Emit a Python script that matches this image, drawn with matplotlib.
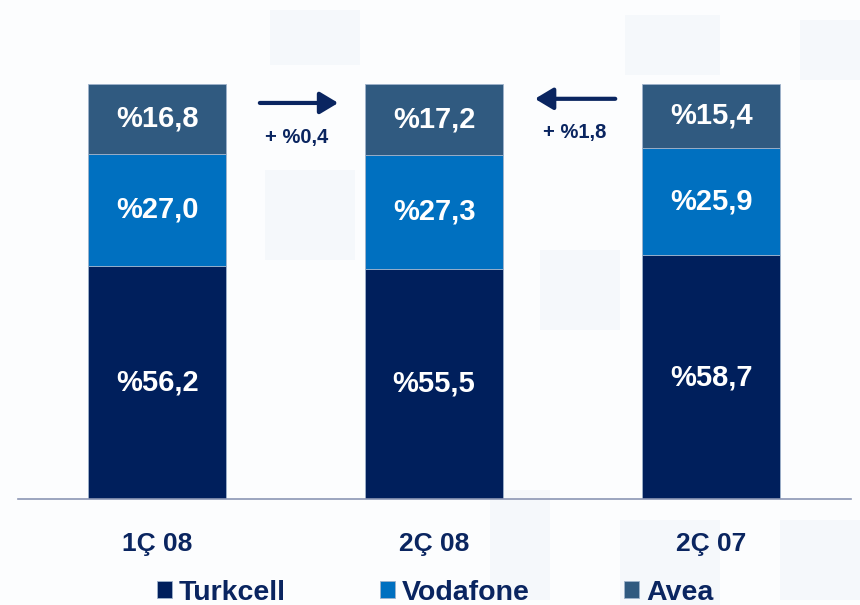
import matplotlib.pyplot as plt
from matplotlib.patches import Rectangle

# データ
categories = ['1Ç 08', '2Ç 08', '2Ç 07']
turkcell = [56.2, 55.5, 58.7]
vodafone = [27.0, 27.3, 25.9]
avea = [16.8, 17.2, 15.4]
changes = ['+ %0,4', '+ %1,8']

c_turkcell = '#001f5c'
c_vodafone = '#0070c0'
c_avea = '#305a80'
c_text = '#0a2560'

BOLD = ['Liberation Sans', 'DejaVu Sans']

fig = plt.figure(figsize=(8.6, 6.05), dpi=100, facecolor='#fcfdfe')

# 背景の薄い四角（装飾）
W, H = 860, 605
for x, y, w, h in [(270, 10, 90, 55), (625, 15, 95, 60), (800, 20, 60, 60),
                   (265, 170, 90, 90), (540, 250, 80, 80), (490, 490, 60, 110),
                   (620, 520, 100, 85), (780, 520, 80, 80)]:
    fig.patches.append(Rectangle((x / W, 1 - (y + h) / H), w / W, h / H,
                                 transform=fig.transFigure, color='#e6eef7',
                                 alpha=0.3, lw=0, zorder=-1))

ax = fig.add_axes([18 / W, 106 / H, 833 / W, 499 / H])
ax.patch.set_alpha(0)

x = list(range(len(categories)))
bottom2 = [a + b for a, b in zip(turkcell, vodafone)]
kw = dict(width=0.5, edgecolor='#9fb3cc', linewidth=0.6)
b1 = ax.bar(x, turkcell, color=c_turkcell, label='Turkcell', **kw)
b2 = ax.bar(x, vodafone, bottom=turkcell, color=c_vodafone, label='Vodafone', **kw)
b3 = ax.bar(x, avea, bottom=bottom2, color=c_avea, label='Avea', **kw)

for bars, vals in [(b1, turkcell), (b2, vodafone), (b3, avea)]:
    for rect, v in zip(bars, vals):
        ax.text(rect.get_x() + rect.get_width() / 2, rect.get_y() + rect.get_height() / 2,
                '%' + f'{v:.1f}'.replace('.', ','), ha='center', va='center',
                color='white', fontsize=21, fontweight='bold', family=BOLD)

# 矢印と差分
ax.annotate('', xy=(0.664, 95.4), xytext=(0.361, 95.4),
            arrowprops=dict(arrowstyle='-|>,head_length=0.5,head_width=0.3',
                            mutation_scale=22, lw=3, color=c_text))
ax.annotate('', xy=(1.354, 96.4), xytext=(1.664, 96.4),
            arrowprops=dict(arrowstyle='-|>,head_length=0.5,head_width=0.3',
                            mutation_scale=22, lw=3, color=c_text))
ax.text(0.505, 87.0, changes[0], ha='center', va='center', fontsize=14.5,
        fontweight='bold', color=c_text, family=BOLD)
ax.text(1.509, 88.2, changes[1], ha='center', va='center', fontsize=14.5,
        fontweight='bold', color=c_text, family=BOLD)

ax.set_xlim(-0.502, 2.505)
ax.set_ylim(0, 120.2)
ax.set_xticks(x)
ax.set_xticklabels(categories, fontsize=19, fontweight='bold', color=c_text, family=BOLD)
ax.tick_params(axis='x', length=0, pad=24)
ax.set_yticks([])
for s in ['top', 'left', 'right']:
    ax.spines[s].set_visible(False)
ax.spines['bottom'].set_color('#8c96b4')
ax.spines['bottom'].set_linewidth(1.2)

leg = fig.legend(handles=[b1, b2, b3], loc='center', bbox_to_anchor=(0.506, 0.02),
                 ncol=3, frameon=False, handlelength=0.53, handleheight=0.53,
                 handletextpad=0.25, columnspacing=3.3,
                 prop=dict(family=BOLD, weight='bold', size=20.5))
for t in leg.get_texts():
    t.set_color(c_text)

fig.savefig('out.png', dpi=100, facecolor=fig.get_facecolor())
